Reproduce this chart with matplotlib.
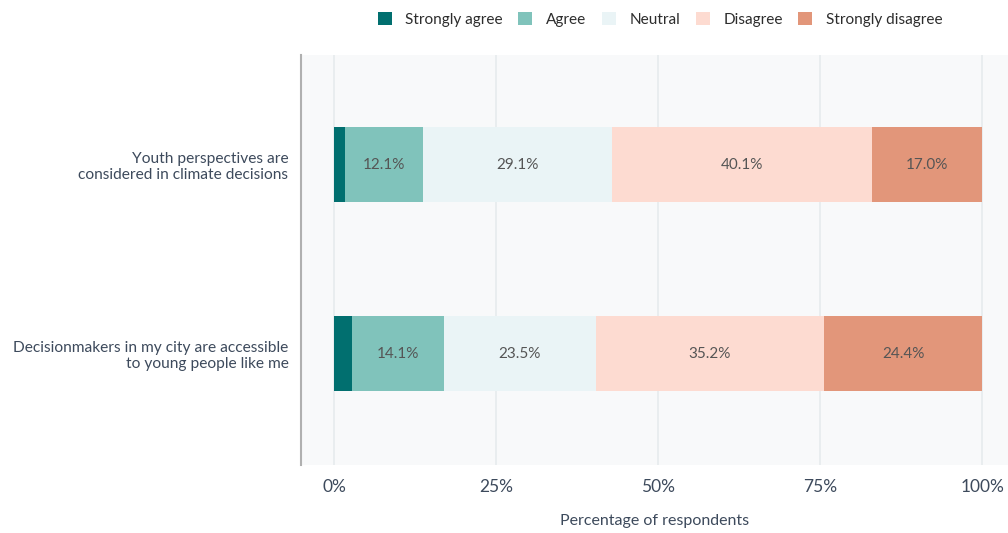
import numpy as np
import matplotlib.pyplot as plt

plt.rcParams['font.family'] = ['Lato', 'DejaVu Sans']

statements = [
    "Youth perspectives are\nconsidered in climate decisions",
    "Decisionmakers in my city are accessible\nto young people like me",
]
categories = ["Strongly agree", "Agree", "Neutral", "Disagree", "Strongly disagree"]
colors = ["#016f6f", "#80c3bb", "#eaf4f6", "#fddbd1", "#e2967a"]

strongly_agree = [1.7, 2.8]
agree = [12.1, 14.1]
neutral = [29.1, 23.5]
disagree = [40.1, 35.2]
strongly_disagree = [17.0, 24.4]
series = [strongly_agree, agree, neutral, disagree, strongly_disagree]

fig = plt.figure(figsize=(10.08, 5.33), dpi=100)
ax = fig.add_axes([0.2986, 0.1276, 0.7014, 0.7692])
ax.set_facecolor("#f8f9fa")

y = np.arange(len(statements))
left = np.zeros(len(statements))
for name, vals, col in zip(categories, series, colors):
    vals = np.array(vals)
    ax.barh(y, vals, left=left, height=0.4, color=col, label=name, zorder=3)
    # the thin "Strongly agree" slivers stay unlabelled
    if name != "Strongly agree":
        for yi, l, v in zip(y, left, vals):
            ax.text(l + v / 2, yi, f"{v:.1f}%", ha="center", va="center",
                    fontsize=11, color="#555555", zorder=4)
    left += vals

ax.set_xlim(-5.1, 104)
ax.set_ylim(1.59, -0.58)
ax.set_xticks([0, 25, 50, 75, 100])
ax.set_xticklabels(["0%", "25%", "50%", "75%", "100%"])
ax.set_yticks(y)
ax.set_yticklabels(statements, fontsize=11.2, color="#3d4a5c")
ax.tick_params(axis="x", length=0, labelsize=12.5, labelcolor="#3d4a5c", pad=10)
ax.tick_params(axis="y", length=0, pad=9)
ax.grid(axis="x", color="#e6ebed", linewidth=1.2, zorder=0)
ax.set_axisbelow(True)
for side in ["top", "right", "bottom"]:
    ax.spines[side].set_visible(False)
ax.spines["left"].set_color("#b0b0b0")
ax.spines["left"].set_linewidth(1.5)

ax.set_xlabel("Percentage of respondents", fontsize=11.5, color="#3d4a5c", labelpad=14)

fig.legend(loc="center", bbox_to_anchor=(0.655, 0.963), ncol=5, frameon=False,
           fontsize=11.1, handlelength=0.9, handleheight=0.9, handletextpad=0.9,
           columnspacing=1.0, labelcolor="#2d2d2d")

fig.savefig("out.png", dpi=100)
